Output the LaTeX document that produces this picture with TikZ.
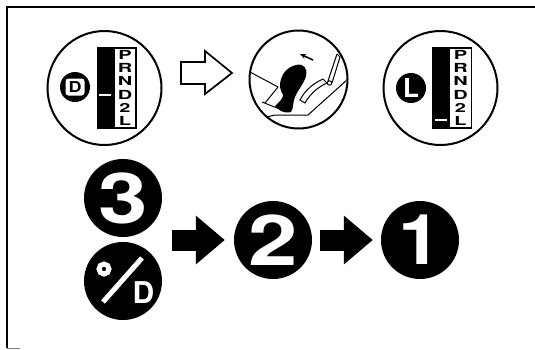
\documentclass[tikz,border=0pt]{standalone}
\usepackage{fontspec}
\setmainfont{TeX Gyre Heros}
\usetikzlibrary{arrows.meta, positioning, calc}
\newcommand{\gearlist}{\scalebox{1.6}[1]{P}\\\scalebox{1.6}[1]{R}\\\scalebox{1.6}[1]{N}\\\scalebox{1.6}[1]{D}\\\scalebox{1.6}[1]{2}\\\scalebox{1.6}[1]{L}}

\begin{document}
\begin{tikzpicture}[
    x=1pt, y=-1pt,
    font=\bfseries,
    dial/.style={circle, draw=black, line width=2pt, fill=white, minimum size=114pt, inner sep=0pt},
    badge/.style={circle, fill=black, text=white, minimum size=78pt, inner sep=0pt, font=\bfseries\fontsize{70}{70}\selectfont},
    gearlamp/.style={circle, fill=black, text=white, minimum size=30pt, inner sep=0pt, font=\bfseries\fontsize{26}{26}\selectfont},
    gate/.style={fill=black, minimum width=16.5pt, minimum height=82pt, inner sep=0pt},
    plate/.style={draw=black, line width=1.2pt, fill=white, minimum width=22pt, minimum height=80pt, inner sep=0pt, align=center,
        font=\bfseries\fontsize{12.5}{13.3}\selectfont},
    notch/.style={fill=white, minimum width=12pt, minimum height=2.5pt, inner sep=0pt},
    flow/.style={-{Triangle[length=29pt, width=47pt]}, line width=21pt, black},
    hollow/.style={draw=black, line width=1.7pt, fill=white, line join=miter},
    sketch/.style={draw=black, line width=1pt},
]
\useasboundingbox (0,0) rectangle (535,349);

% frame
\draw[line width=1.6pt] (535,7) -- (7,7) -- (7,348);
\draw[line width=1pt, black!50] (7,348) -- (20,348);

% first dial
\node[dial] (dialD) at (104.5,88) {};
\node[gearlamp] (lampD) at (75,87) {};
\node[fill=white, rounded corners=3pt, minimum width=19pt, minimum height=17pt, inner sep=0pt, text=black,
    font=\bfseries\fontsize{15}{15}\selectfont] (lampDtxt) at (75,87) {\scalebox{1.2}[1]{D}};
\node[gate] (gateD) at (105,88) {};
\node[plate, right=0pt of gateD] (plateD) {\gearlist};
\node[notch] (notchD) at (105,95) {};

% hollow arrow
\draw[hollow] (181,62) -- (205,62) -- (205,51) -- (232,73) -- (205,94) -- (205,84) -- (181,84) -- cycle;

% middle dial with pedal
\node[dial, minimum size=98pt] (dialP) at (298.5,79.5) {};
\begin{scope}
    \clip (dialP.center) circle (48pt);
    % leg
    \draw[sketch] (250,72) -- (278,87) -- (265,103);
    \draw[sketch] (262,102) -- (277,108);
    % floor
    \draw[sketch] (258,119) -- (275,115) -- (308,115) -- (348,79);
    % pedal arm
    \draw[sketch] (337,54) -- (328,81);
    \draw[sketch] (337,54) -- (340,57) -- (332,83);
    % pedal plate
    \draw[sketch, fill=white] (300,100) .. controls (305,90) and (314,83) .. (323,79)
        -- (327,83) .. controls (318,87) and (310,94) .. (305,103) -- cycle;
    \draw[sketch, fill=white] (329.5,83) circle (2.2pt);
\end{scope}
% shoe
\fill[black] (296,65) .. controls (304,63) and (308,69) .. (306,76)
    .. controls (304,84) and (296,92) .. (294,100)
    .. controls (293,105) and (293,109) .. (291,112)
    .. controls (284,114) and (278,110) .. (275,106)
    .. controls (279,102) and (283,99) .. (283,95)
    .. controls (280,90) and (279,85) .. (281,79)
    .. controls (283,72) and (288,67) .. (296,65) -- cycle;
% small arrow above the shoe
\draw[-{Stealth[length=6pt, width=5pt]}, line width=1.6pt] (313,60) -- (300,54);

% second dial
\node[dial] (dialL) at (440.5,88) {};
\node[gearlamp] (lampL) at (411,88) {L};
\node[gate] (gateL) at (440.5,88) {};
\node[plate, right=0pt of gateL] (plateL) {\gearlist};
\node[notch] (notchL) at (440.5,120) {};

% lower row
\node[badge] (three) at (123,198) {\scalebox{1.27}[1]{3}};
\node[badge] (hold) at (123,281) {};
\node[circle, draw=white, line width=5pt, fill=black, minimum size=10pt, inner sep=0pt] (holddot) at (104,269) {};
\node[text=white, font=\bfseries\fontsize{30}{30}\selectfont] (holdD) at (143.5,292.5) {D};
\draw[white, line width=5pt] (142,258) -- (103,302);
\node[badge] (two) at (273,240) {\scalebox{1.27}[1]{2}};
\node[badge] (one) at (420,240) {\scalebox{1.1}[1]{1}};

\coordinate (pair) at (three.east |- two);
\draw[flow, shorten <=10pt, shorten >=9pt] (pair) -- (two);
\draw[flow, shorten <=8pt, shorten >=8pt] (two) -- (one);

\end{tikzpicture}
\end{document}
